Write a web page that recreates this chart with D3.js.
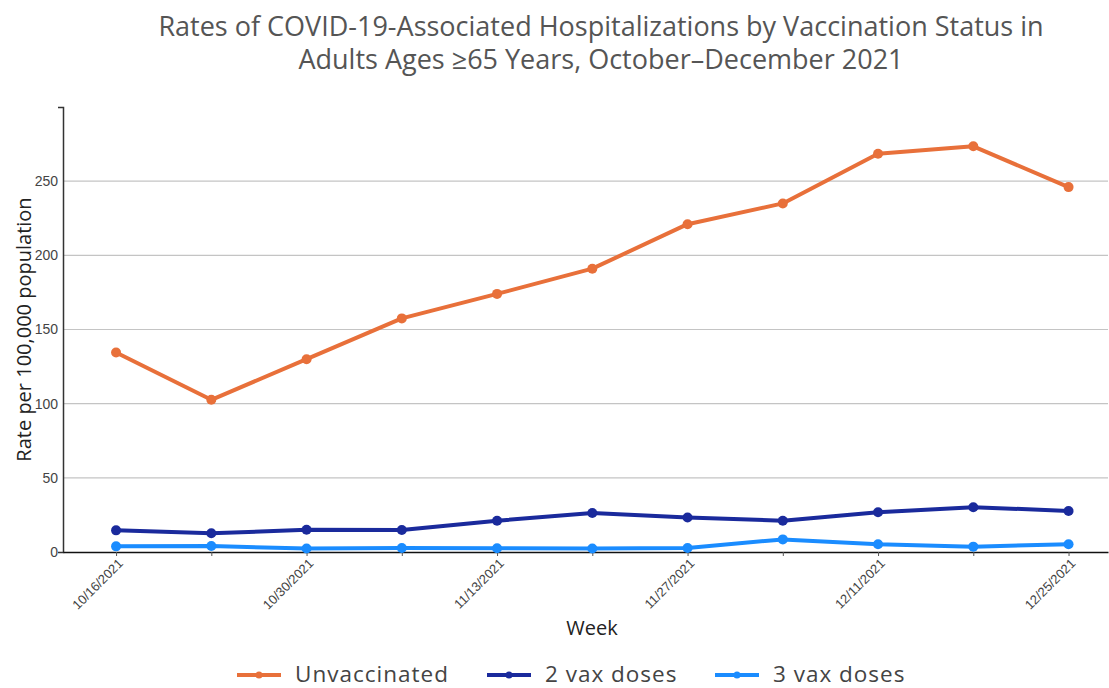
<!DOCTYPE html>
<html lang="en">
<head>
  <meta charset="UTF-8">
  <title>COVID-19-Associated Hospitalizations by Vaccination Status</title>
  <script src="https://d3js.org/d3.v7.min.js"></script>
<style>
  body, html {
    margin: 0;
    padding: 0;
    background: #fff;
  }
  svg { display: block; }
  .title { font-family: 'Open Sans', sans-serif; font-size: 27px; fill: #555; }
  .axis-label { font-family: 'Open Sans', sans-serif; font-size: 20px; fill: #222; }
  .tick text { font-family: 'Liberation Sans', Arial, sans-serif; fill: #444; }
  .legend text { font-family: 'Open Sans', sans-serif; font-size: 22.5px; letter-spacing: 1px; fill: #444; }
</style>
</head>
<body>
  <svg width="1109" height="688"></svg>

  <script>
    // Data
    const weeks = ["10/16/2021", "10/23/2021", "10/30/2021", "11/06/2021", "11/13/2021", "11/20/2021",
                   "11/27/2021", "12/04/2021", "12/11/2021", "12/18/2021", "12/25/2021"];
    const unvaccinated = [134.5, 102.6, 130, 157.5, 174, 191, 221, 235, 268.5, 273.5, 246];
    const twoDoses     = [14.6, 12.6, 15.0, 14.8, 21.1, 26.3, 23.2, 21.1, 26.8, 30.2, 27.7];
    const threeDoses   = [3.8, 4.0, 2.3, 2.7, 2.5, 2.3, 2.7, 8.5, 5.2, 3.6, 5.2];
    const seriesNames  = ["Unvaccinated", "2 vax doses", "3 vax doses"];
    const seriesColors = ["#e8703a", "#1a2a9c", "#1a8cff"];
    const yTicks = [0, 50, 100, 150, 200, 250];
    const xLabelWeeks = ["10/16/2021", "10/30/2021", "11/13/2021", "11/27/2021", "12/11/2021", "12/25/2021"];
    const titleLines = ["Rates of COVID-19-Associated Hospitalizations by Vaccination Status in",
                        "Adults Ages \u226565 Years, October\u2013December 2021"];

    const margin = {top: 107, right: 1, bottom: 136, left: 63},
          width  = 1109 - margin.left - margin.right,
          height = 688 - margin.top - margin.bottom;

    const svg = d3.select("svg");
    const g = svg.append("g").attr("transform", `translate(${margin.left},${margin.top})`);

    const parse = d3.timeParse("%m/%d/%Y");
    const dates = weeks.map(parse);
    const dayMs = 86400000;
    const x = d3.scaleTime()
                .domain([new Date(+dates[0] - 3.9 * dayMs), new Date(+dates[dates.length - 1] + 2.9 * dayMs)])
                .range([0, width]);
    const y = d3.scaleLinear().domain([0, 300]).range([height, 0]);

    // Title, one text per line
    svg.selectAll(".title")
       .data(titleLines)
       .enter().append("text")
         .attr("class", "title")
         .attr("text-anchor", "middle")
         .attr("x", 601)
         .attr("y", (d, i) => 36 + i * 33)
         .text(d => d);

    // Gridlines
    g.append("g")
     .selectAll("line")
     .data(yTicks.filter(d => d > 0))
     .enter().append("line")
       .attr("x1", 0).attr("x2", width)
       .attr("y1", d => y(d)).attr("y2", d => y(d))
       .attr("stroke", "#c4c4c4").attr("stroke-width", 1.2);

    // Y axis
    const yAxis = g.append("g")
      .call(d3.axisLeft(y).tickValues(yTicks).tickSizeInner(0).tickSizeOuter(5).tickPadding(5));
    yAxis.selectAll(".tick text").style("font-size", "14px");
    yAxis.select(".domain").attr("stroke", "#333").attr("stroke-width", 1.5);

    // X axis
    const xAxis = g.append("g")
      .attr("transform", `translate(0,${height})`)
      .call(d3.axisBottom(x).tickValues(dates).tickSize(4).tickSizeOuter(0)
              .tickFormat(d => {
                const s = weeks[dates.findIndex(t => +t === +d)];
                return xLabelWeeks.includes(s) ? d3.timeFormat("%-m/%-d/%Y")(d) : "";
              }));
    xAxis.select(".domain").attr("stroke", "#111").attr("stroke-width", 1.5);
    xAxis.selectAll(".tick line").attr("stroke", "#555");
    xAxis.selectAll(".tick text")
         .style("font-size", "13px")
         .style("text-anchor", "end")
         .attr("x", 0).attr("y", 0)
         .attr("dy", "0.35em")
         .attr("transform", "translate(4,9) rotate(-45)");

    // Axis labels
    svg.append("text").attr("class", "axis-label")
       .attr("text-anchor", "middle")
       .attr("transform", `translate(31,${margin.top + height / 2})`+" rotate(-90)")
       .text("Rate per 100,000 population");
    svg.append("text").attr("class", "axis-label")
       .attr("text-anchor", "middle")
       .attr("x", 592).attr("y", 635)
       .text("Week");

    // Lines
    const allSeries = [unvaccinated, twoDoses, threeDoses];
    const line = d3.line().x((d, i) => x(dates[i])).y(d => y(d));

    allSeries.slice().reverse().forEach((vals, ri) => {
      const k = allSeries.length - 1 - ri;
      g.append("path")
       .datum(vals)
       .attr("fill", "none")
       .attr("stroke", seriesColors[k])
       .attr("stroke-width", 4)
       .attr("stroke-linejoin", "round")
       .attr("d", line);
      g.append("g")
       .selectAll("circle")
       .data(vals)
       .enter().append("circle")
         .attr("cx", (d, i) => x(dates[i]))
         .attr("cy", d => y(d))
         .attr("r", 5)
         .attr("fill", seriesColors[k]);
    });

    // Legend
    const legendX = [237, 487, 715];
    const legend = svg.append("g").attr("class", "legend").attr("transform", "translate(0,675)");
    seriesNames.forEach((name, i) => {
      const item = legend.append("g").attr("transform", `translate(${legendX[i]},0)`);
      item.append("line").attr("x1", 0).attr("x2", 44).attr("y1", 0).attr("y2", 0)
          .attr("stroke", seriesColors[i]).attr("stroke-width", 4);
      item.append("circle").attr("cx", 22).attr("cy", 0).attr("r", 3.5).attr("fill", seriesColors[i]);
      item.append("text").attr("x", 58).attr("y", 7).text(name);
    });
  </script>
</body>
</html>
